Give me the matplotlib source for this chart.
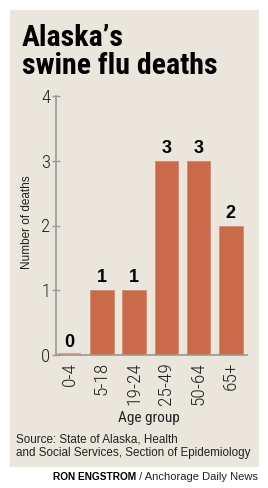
import matplotlib
matplotlib.use("Agg")
import matplotlib.pyplot as plt
from matplotlib.patches import Rectangle

categories = ["0-4", "5-18", "19-24", "25-49", "50-64", "65+"]
deaths = [0, 1, 1, 3, 3, 2]
yticks = [0, 1, 2, 3, 4]

COND = ["Roboto Condensed", "DejaVu Sans"]
ARIAL = ["Liberation Sans", "DejaVu Sans"]

W, H = 268, 488
fig = plt.figure(figsize=(W / 100, H / 100), dpi=100)
fig.patch.set_facecolor("white")

bg = "#EAE6DC"
fig.patches.append(Rectangle((10 / W, 1 - 467 / H), 249 / W, 457 / H,
                             transform=fig.transFigure, facecolor=bg,
                             edgecolor="none", zorder=-10))

ax = fig.add_axes([56 / W, 1 - 355 / H, 191 / W, 259 / H])
ax.set_facecolor("none")
ax.set_zorder(1)
bar_color = "#CB6A4A"
x = list(range(len(categories)))
ax.bar(x, deaths, width=0.73, color=bar_color, edgecolor="#D8876B", linewidth=0.6, zorder=2)
for xi, v in zip(x, deaths):
    if v == 0:
        ax.plot([xi - 0.365, xi + 0.365], [0.012, 0.012], color="#E2A188", lw=1.5,
                zorder=2, solid_capstyle="butt")
    ax.text(xi, v + 0.06, str(v), ha="center", va="bottom", fontsize=13,
            fontweight="bold", family=ARIAL, color="black")

ax.set_xlim(-0.42, 5.5)
ax.set_ylim(0, 4)
ax.set_yticks(yticks)
ax.set_yticklabels([str(t) for t in yticks], fontsize=13.5, family=COND,
                   fontweight="light", color="#222222")
ax.set_xticks(x)
ax.set_xticklabels(categories, rotation=90, fontsize=14, family=COND,
                   fontweight="light", color="#222222")
ax.tick_params(axis="y", direction="inout", length=6, width=1, color="#999999", pad=1)
ax.tick_params(axis="x", length=0, pad=5)
for s in ["top", "right"]:
    ax.spines[s].set_visible(False)
for s in ["left", "bottom"]:
    ax.spines[s].set_color("#999999")
    ax.spines[s].set_linewidth(1.2)

fig.text(27 / W, 1 - 222 / H, "Number of deaths", rotation=90, ha="center", va="center",
         fontsize=8.5, family=ARIAL, color="#222222")
fig.text(149 / W, 1 - 418 / H, "Age group", ha="center", va="center",
         fontsize=11, family=COND, color="#222222")

fig.text(22 / W, 1 - 24 / H, "Alaska\u2019s\nswine flu deaths", ha="left", va="top",
         fontsize=21.5, fontweight="bold", family=COND, color="black", linespacing=0.98)

fig.text(16 / W, 1 - 439 / H, "Source: State of Alaska, Health", ha="left", va="center",
         fontsize=8.35, family=ARIAL, color="#222222")
fig.text(16 / W, 1 - 453 / H, "and Social Services, Section of Epidemiology", ha="left", va="center",
         fontsize=8.35, family=ARIAL, color="#222222")

t1 = fig.text(258 / W, 1 - 477 / H, " / Anchorage Daily News", ha="right", va="center",
              fontsize=8, family=ARIAL, color="#222222")
fig.canvas.draw()
bb = t1.get_window_extent()
fig.text(bb.x0 / W, 1 - 477 / H, "RON ENGSTROM", ha="right", va="center",
         fontsize=7.3, fontweight="bold", family=ARIAL, color="black")

fig.savefig("out.png", dpi=100, facecolor="white")
